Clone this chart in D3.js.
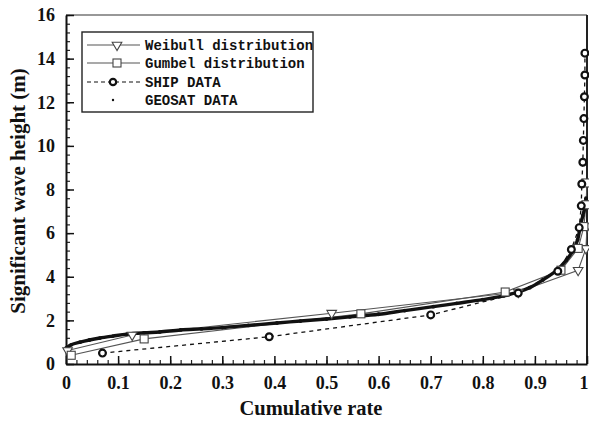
<!DOCTYPE html>
<html>
<head>
<meta charset="utf-8">
<script src="https://cdn.jsdelivr.net/npm/d3@7"></script>
<style>
html,body{margin:0;padding:0;background:#fff;}
svg{display:block;}
</style>
</head>
<body>
<svg id="chart" width="589" height="421"></svg>
<script>
// ---- data ----
const xTicks = [0,0.1,0.2,0.3,0.4,0.5,0.6,0.7,0.8,0.9,1];
const yTicks = [0,2,4,6,8,10,12,14,16];

const shipRate   = [0.07,0.39,0.70,0.868,0.944,0.970,0.985,0.989,0.990,0.992,0.993,0.994,0.995,0.996,0.996];
const shipHeight = [0.5,1.25,2.25,3.25,4.25,5.25,6.25,7.25,8.25,9.25,10.25,11.25,12.25,13.25,14.25];

const weibullRate   = [0.003,0.127,0.51,0.868,0.983,0.998,1.0];
const weibullHeight = [0.62,1.33,2.33,3.3,4.3,5.3,6.3];

const gumbelRate   = [0.01,0.15,0.566,0.843,0.95,0.983,0.994,0.998,1.0];
const gumbelHeight = [0.4,1.15,2.3,3.3,4.3,5.3,6.3,7.3,8.3];

const geosatRate   = [0,0.01,0.027,0.045,0.065,0.09,0.117,0.15,0.18,0.22,0.26,0.30,0.35,0.405,0.45,0.50,0.545,0.60,0.65,0.705,0.75,0.80,0.84,0.865,0.89,0.915,0.942,0.96,0.973,0.982,0.987,0.992,0.996,0.998];
const geosatHeight = [0.73,0.88,1.0,1.1,1.19,1.28,1.37,1.43,1.47,1.56,1.61,1.67,1.77,1.88,1.97,2.06,2.16,2.28,2.45,2.63,2.78,2.95,3.12,3.28,3.5,3.85,4.3,4.75,5.2,5.7,6.3,6.8,7.2,7.6];

const legendLabels = ["Weibull distribution","Gumbel distribution","SHIP DATA","GEOSAT DATA"];

// ---- drawing ----
const svg = d3.select("#chart");
const L = 66, R = 587, T = 15, B = 364;
const x = d3.scaleLinear().domain([0,1]).range([L,R]);
const y = d3.scaleLinear().domain([0,16]).range([B,T]);
const serif = "'Liberation Serif','Times New Roman',serif";

// frame: top and right borders
svg.append("line").attr("x1",L).attr("x2",R).attr("y1",T).attr("y2",T)
  .attr("stroke","#333").attr("stroke-width",1.2);
svg.append("line").attr("x1",R).attr("x2",R).attr("y1",T).attr("y2",B)
  .attr("stroke","#222").attr("stroke-width",2);

// minor ticks
const xMinor = d3.range(0,1.0001,0.02);
const yMinor = d3.range(0,16.001,0.4);
svg.append("g").attr("transform",`translate(0,${B})`)
  .call(d3.axisBottom(x).tickValues(xMinor).tickSize(-4).tickFormat(""))
  .call(g=>g.select(".domain").remove())
  .call(g=>g.selectAll("line").attr("stroke","#222").attr("stroke-width",1.2));
svg.append("g").attr("transform",`translate(${L},0)`)
  .call(d3.axisLeft(y).tickValues(yMinor).tickSize(-4).tickFormat(""))
  .call(g=>g.select(".domain").remove())
  .call(g=>g.selectAll("line").attr("stroke","#222").attr("stroke-width",1.2));

// major axes
const fmtX = d => d===0 ? "0" : d===1 ? "1" : d.toFixed(1);
const xAxis = svg.append("g").attr("transform",`translate(0,${B})`)
  .call(d3.axisBottom(x).tickValues(xTicks).tickSizeInner(-8).tickSizeOuter(0).tickPadding(12).tickFormat(fmtX));
const yAxis = svg.append("g").attr("transform",`translate(${L},0)`)
  .call(d3.axisLeft(y).tickValues(yTicks).tickSizeInner(-8).tickSizeOuter(0).tickPadding(11).tickFormat(d3.format("d")));
[xAxis,yAxis].forEach(g=>{
  g.select(".domain").attr("stroke","#111").attr("stroke-width",2);
  g.selectAll("line").attr("stroke","#111").attr("stroke-width",1.5);
  g.selectAll("text").attr("font-family",serif).attr("font-weight","bold")
    .attr("font-size",18).attr("fill","#111");
});
// keep the last x label inside the picture
xAxis.selectAll(".tick").filter(d=>d===1).select("text")
  .attr("text-anchor","end").attr("dx",1);

// axis titles
svg.append("text").attr("x",311).attr("y",415).attr("text-anchor","middle")
  .attr("font-family",serif).attr("font-weight","bold").attr("font-size",20.5)
  .attr("fill","#111").text("Cumulative rate");
svg.append("text").attr("transform","translate(25,191) rotate(-90)").attr("text-anchor","middle")
  .attr("font-family",serif).attr("font-weight","bold").attr("font-size",21)
  .attr("fill","#111").text("Significant wave height (m)");

const plot = svg.append("g");
const line = d3.line().x(d=>x(d[0])).y(d=>y(d[1]));

// series as point arrays
const ship = shipRate.map((r,i)=>[r,shipHeight[i]]);
const weib = weibullRate.map((r,i)=>[r,weibullHeight[i]]);
const gumb = gumbelRate.map((r,i)=>[r,gumbelHeight[i]]);
const geo  = geosatRate.map((r,i)=>[r,geosatHeight[i]]);

// Weibull & Gumbel lines
plot.append("path").datum(weib).attr("d",line).attr("fill","none")
  .attr("stroke","#555").attr("stroke-width",1.1);
plot.append("path").datum(gumb).attr("d",line).attr("fill","none")
  .attr("stroke","#555").attr("stroke-width",1.1);

// GEOSAT data (dense dots forming a band)
plot.append("path").datum(geo).attr("d",d3.line().x(d=>x(d[0])).y(d=>y(d[1])).curve(d3.curveCatmullRom))
  .attr("fill","none").attr("stroke","#111").attr("stroke-width",3.4);
plot.selectAll(".geo").data(geo).join("circle").attr("class","geo")
  .attr("cx",d=>x(d[0])).attr("cy",d=>y(d[1])).attr("r",1.9).attr("fill","#111");

// SHIP dashed line
plot.append("path").datum(ship).attr("d",line).attr("fill","none")
  .attr("stroke","#111").attr("stroke-width",1.3).attr("stroke-dasharray","4,4");

// markers
const tri = d3.symbol().type(d3.symbolTriangle).size(40);
plot.selectAll(".wm").data(weib).join("path").attr("class","wm")
  .attr("d",tri).attr("transform",d=>`translate(${x(d[0])},${y(d[1])}) rotate(180)`)
  .attr("fill","#fff").attr("stroke","#444").attr("stroke-width",1.1);
plot.selectAll(".gm").data(gumb).join("rect").attr("class","gm")
  .attr("x",d=>x(d[0])-4).attr("y",d=>y(d[1])-4).attr("width",8).attr("height",8)
  .attr("fill","#fff").attr("stroke","#444").attr("stroke-width",1.1);
plot.selectAll(".sm").data(ship).join("circle").attr("class","sm")
  .attr("cx",d=>x(d[0])).attr("cy",d=>y(d[1])).attr("r",3.4)
  .attr("fill","#fff").attr("stroke","#111").attr("stroke-width",2.2);

// legend
const lg = svg.append("g");
lg.append("rect").attr("x",82).attr("y",32).attr("width",231).attr("height",80)
  .attr("fill","#fff").attr("stroke","#222").attr("stroke-width",1.4);
const rowY = [45,63,82,100];
const mono = "'Liberation Mono','DejaVu Sans Mono',monospace";
legendLabels.forEach((t,i)=>{
  lg.append("text").attr("x",145).attr("y",rowY[i]+5).attr("font-family",mono)
    .attr("font-weight","bold").attr("font-size",14).attr("fill","#111").text(t);
});
// Weibull
lg.append("line").attr("x1",87).attr("x2",140).attr("y1",rowY[0]).attr("y2",rowY[0])
  .attr("stroke","#555").attr("stroke-width",1.1);
lg.append("path").attr("d",tri).attr("transform",`translate(117,${rowY[0]}) rotate(180)`)
  .attr("fill","#fff").attr("stroke","#444").attr("stroke-width",1.1);
// Gumbel
lg.append("line").attr("x1",87).attr("x2",140).attr("y1",rowY[1]).attr("y2",rowY[1])
  .attr("stroke","#555").attr("stroke-width",1.1);
lg.append("rect").attr("x",113).attr("y",rowY[1]-4).attr("width",8).attr("height",8)
  .attr("fill","#fff").attr("stroke","#444").attr("stroke-width",1.1);
// SHIP
lg.append("line").attr("x1",87).attr("x2",140).attr("y1",rowY[2]).attr("y2",rowY[2])
  .attr("stroke","#111").attr("stroke-width",1.2).attr("stroke-dasharray","4,3");
lg.append("circle").attr("cx",113).attr("cy",rowY[2]).attr("r",3.2)
  .attr("fill","#fff").attr("stroke","#111").attr("stroke-width",2.2);
// GEOSAT
lg.append("circle").attr("cx",113).attr("cy",rowY[3]).attr("r",1.2).attr("fill","#111");
</script>
</body>
</html>
